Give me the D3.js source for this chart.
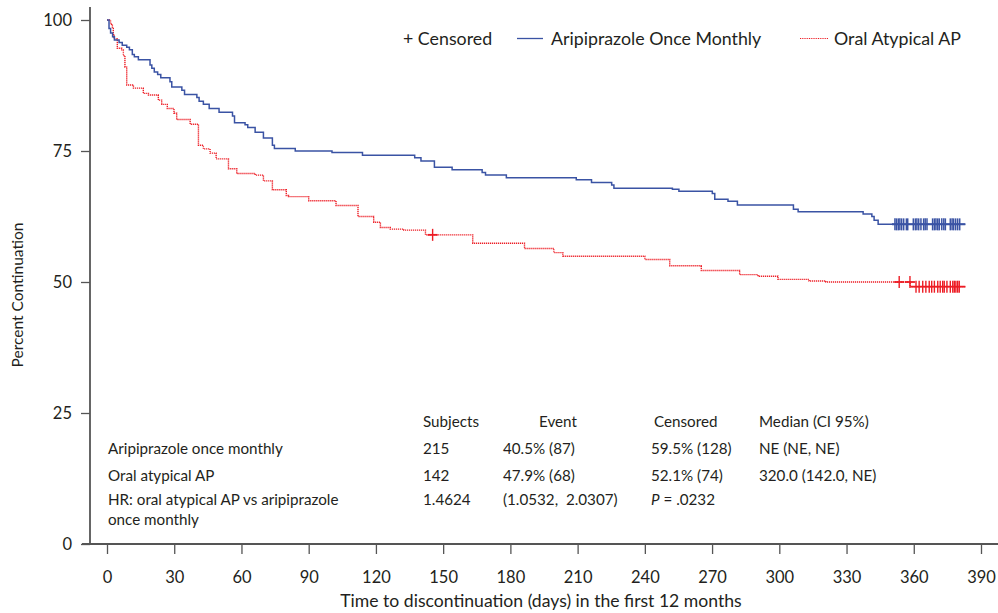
<!DOCTYPE html>
<html>
<head>
<meta charset="utf-8">
<script src="https://cdn.jsdelivr.net/npm/d3@7"></script>
<style>
  body { margin: 0; background: #fff; }
  svg { font-family: Lato, "Noto Sans", sans-serif; fill: #231f20; }
</style>
</head>
<body>
<svg id="chart" width="998" height="613"></svg>
<script>
// Kaplan-Meier steps: [day, percent after the drop]
var aripSteps = [[0,100],[0.9,98.4],[1.6,97.5],[2.5,96.8],[3.3,96.2],[5.4,95.7],[6.8,95.2],[8.8,94.8],[10,94.3],[11.3,93.4],
  [12.2,93.0],[14,92.4],[19.2,91.4],[20,90.8],[21.1,90.1],[22.6,89.6],[24,89.0],[28.1,88.2],[28.9,87.2],[33.4,86.6],
  [34.6,85.8],[40.1,85.2],[41.1,84.5],[43,83.9],[45.6,83.1],[50,82.4],[56,81.7],[56.9,80.4],[61.6,80.0],[62.8,79.5],
  [66.1,78.6],[69.8,77.5],[73.8,76.1],[74.7,75.5],[84,75.0],[100.4,74.7],[114,74.2],[137.3,73.7],[140.1,73.1],[146.1,71.9],
  [154,71.4],[167.4,70.9],[168.9,70.4],[178.2,69.9],[209.4,69.5],[216.2,69.0],[225.2,68.5],[226.2,67.9],[252.3,67.7],
  [255.2,67.3],[270.1,66.9],[271.2,65.8],[277.1,65.4],[281.3,64.7],[306.3,63.9],[308.4,63.4],[337.4,63.0],[341.3,62.5],
  [342.3,61.8],[344.1,61.0],[383,61.0]];

var oralSteps = [[0,100],[1.6,99.2],[2.4,98.4],[2.8,97.1],[3.1,96.4],[4.6,94.6],[6.6,94.3],[7.3,93.2],[8.0,91.0],[8.8,87.6],
  [11.8,87.0],[16.2,86.0],[18.5,85.7],[22.9,84.7],[24.4,83.9],[26.9,83.1],[29.9,82.2],[31.1,81.0],[37.1,80.1],[40.8,76.1],
  [43,75.4],[46,74.6],[48.7,73.5],[54.2,71.6],[57.9,70.7],[66.1,70.4],[69.8,69.3],[73.8,67.6],[80,66.5],[81,66.3],
  [90,65.5],[102.2,64.6],[112,62.5],[119,61.4],[122,60.4],[126.4,60.1],[132.4,59.9],[142.1,59.0],[163.2,57.4],[186.3,56.4],
  [199.4,55.6],[203.4,54.9],[240,54.3],[251.1,53.1],[265.2,52.2],[282.3,51.4],[290.5,51.1],[299.4,50.5],[313.3,50.2],
  [320.8,50.0],[358.4,49.1],[383,49.1]];

// censored times (days)
var aripCensored = [351.6,352.3,353.1,353.8,354.6,355.5,356.7,357.3,359.8,360.7,361.4,362.2,363.2,364.4,365.1,365.9,
  368.4,369.2,369.9,370.7,371.4,372.5,373.4,374.1,376.3,377.1,377.8,378.7,379.6,380.5];
var oralCensored = [145.3,353.5,358.3,361,362.4,364,365.4,366.9,368,369.2,370.7,371.8,372.9,373.6,374.8,376.3,377.4,
  378.1,378.8,379.6,380.3];

var xTicks = [0,30,60,90,120,150,180,210,240,270,300,330,360,390];
var yTicks = [0,25,50,75,100];

var tableHeader = ["Subjects", "Event", "Censored", "Median (CI 95%)"];
var tableRows = [
  ["Aripiprazole once monthly", "215", "40.5% (87)", "59.5% (128)", "NE (NE, NE)"],
  ["Oral atypical AP", "142", "47.9% (68)", "52.1% (74)", "320.0 (142.0, NE)"],
  ["HR: oral atypical AP vs aripiprazole", "1.4624", "(1.0532,  2.0307)", "P = .0232", ""]
];

var blue = "#3a53a4", red = "#ed1c24", axisCol = "#555";

var svg = d3.select("#chart");
var x = d3.scaleLinear().domain([0, 390]).range([107, 981]);
var y = d3.scaleLinear().domain([0, 100]).range([544, 20]);

// axes
var xAxis = svg.append("g")
  .attr("transform", "translate(0,544)")
  .call(d3.axisBottom(x).tickValues(xTicks).tickSize(10).tickPadding(17));
xAxis.select(".domain").remove();
xAxis.selectAll("line").attr("stroke", axisCol).attr("stroke-width", 1.3);
xAxis.selectAll("text").attr("font-size", 16.5).attr("font-family", "Lato").attr("fill", "#231f20");

var yAxis = svg.append("g")
  .attr("transform", "translate(90,0)")
  .call(d3.axisLeft(y).tickValues(yTicks).tickSize(9).tickPadding(9));
yAxis.select(".domain").remove();
yAxis.selectAll("line").attr("stroke", axisCol).attr("stroke-width", 1.3);
yAxis.selectAll("text").attr("font-size", 16.5).attr("font-family", "Lato").attr("fill", "#231f20");

svg.append("line").attr("x1", 82).attr("x2", 998).attr("y1", y(0)).attr("y2", y(0))
  .attr("stroke", axisCol).attr("stroke-width", 1.8);
svg.append("line").attr("x1", 90).attr("x2", 90).attr("y1", y(102.5)).attr("y2", y(0))
  .attr("stroke", axisCol).attr("stroke-width", 1.8);

svg.append("text").attr("x", 541).attr("y", 607).attr("text-anchor", "middle")
  .attr("font-size", 17.6).text("Time to discontinuation (days) in the first 12 months");
svg.append("text").attr("transform", "translate(23,295) rotate(-90)").attr("text-anchor", "middle")
  .attr("font-size", 15.5).text("Percent Continuation");

// curves
var step = d3.line().x(d => x(d[0])).y(d => y(d[1])).curve(d3.curveStepAfter);

svg.append("path").datum(oralSteps).attr("d", step)
  .attr("fill", "none").attr("stroke", red).attr("stroke-width", 1.4).attr("stroke-dasharray", "1.2,0.8");
svg.append("path").datum(aripSteps).attr("d", step)
  .attr("fill", "none").attr("stroke", blue).attr("stroke-width", 1.5);

function survAt(steps, t) {
  var v = steps[0][1];
  steps.forEach(function(s) { if (s[0] <= t) v = s[1]; });
  return v;
}

svg.append("g").selectAll("line")
  .data(aripCensored).enter().append("line")
  .attr("x1", d => x(d)).attr("x2", d => x(d))
  .attr("y1", d => y(survAt(aripSteps, d)) - 6).attr("y2", d => y(survAt(aripSteps, d)) + 6)
  .attr("stroke", blue).attr("stroke-width", 1.5);

svg.append("g").selectAll("line")
  .data(oralCensored).enter().append("line")
  .attr("x1", d => x(d)).attr("x2", d => x(d))
  .attr("y1", d => y(survAt(oralSteps, d)) - 6).attr("y2", d => y(survAt(oralSteps, d)) + 6)
  .attr("stroke", red).attr("stroke-width", 1.4);

// horizontal arms of the censor crosses
svg.append("g").selectAll("line")
  .data(oralCensored.slice(0, 3)).enter().append("line")
  .attr("x1", d => x(d) - 5).attr("x2", d => x(d) + 5)
  .attr("y1", d => y(survAt(oralSteps, d))).attr("y2", d => y(survAt(oralSteps, d)))
  .attr("stroke", red).attr("stroke-width", 1.8);
svg.append("line").attr("x1", x(oralCensored[3]) - 5).attr("x2", x(383))
  .attr("y1", y(49.1)).attr("y2", y(49.1)).attr("stroke", red).attr("stroke-width", 1.8);
svg.append("line").attr("x1", x(aripCensored[0]) - 3).attr("x2", x(383))
  .attr("y1", y(61.0)).attr("y2", y(61.0)).attr("stroke", blue).attr("stroke-width", 2);

// legend
var leg = svg.append("g").attr("font-size", 17.8);
leg.append("text").attr("x", 403).attr("y", 45).text("+ Censored");
leg.append("line").attr("x1", 517).attr("x2", 543).attr("y1", 38.5).attr("y2", 38.5)
  .attr("stroke", blue).attr("stroke-width", 1.3);
leg.append("text").attr("x", 551).attr("y", 45).text("Aripiprazole Once Monthly");
leg.append("line").attr("x1", 800).attr("x2", 828).attr("y1", 38.5).attr("y2", 38.5)
  .attr("stroke", red).attr("stroke-width", 1).attr("stroke-dasharray", "1,0.8");
leg.append("text").attr("x", 834).attr("y", 45).text("Oral Atypical AP");

// summary table
var tbl = svg.append("g").attr("font-size", 15.2);
var colX = [108, 423, 503, 651, 759];
var headX = [423, 539, 654, 759];
tbl.selectAll(".hd").data(tableHeader).enter().append("text")
  .attr("class", "hd").attr("x", (d, i) => headX[i]).attr("y", 427).text(d => d);
var rowY = [454, 481, 505];
tableRows.forEach(function(row, r) {
  row.forEach(function(cell, c) {
    if (!cell) return;
    var t = tbl.append("text").attr("x", colX[c]).attr("y", rowY[r]).attr("xml:space", "preserve");
    if (cell.indexOf("P = ") === 0) {
      t.append("tspan").attr("font-style", "italic").text("P");
      t.append("tspan").text(cell.slice(1));
    } else {
      t.text(cell);
    }
  });
});
tbl.append("text").attr("x", colX[0]).attr("y", 525).text("once monthly");
</script>
</body>
</html>
